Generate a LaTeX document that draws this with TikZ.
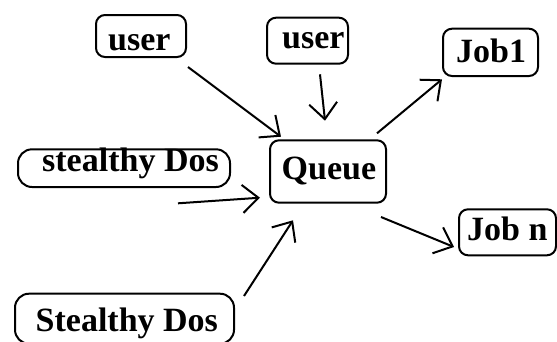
\documentclass[tikz,border=0pt]{standalone}
\usepackage{fontspec}
\setmainfont{Liberation Serif}
\usetikzlibrary{arrows.meta,calc}
\tikzset{
  box/.style={draw, line width=2pt, rounded corners=9pt, inner sep=0pt, anchor=north west},
  lbl/.style={inner sep=0pt, anchor=base west, font=\fontsize{34}{40}\selectfont\bfseries},
  conn/.style={line width=2pt, -{Straight Barb[length=16pt,width=28pt,line width=2pt]}}
}
\begin{document}
\begin{tikzpicture}[x=1pt,y=-1pt]
\useasboundingbox (0,0) rectangle (557,341);
% boxes
\node[box, minimum width=90pt, minimum height=42pt] (u1) at (95,14) {};
\node[box, minimum width=81pt, minimum height=46pt] (u2) at (266,16.7) {};
\node[box, minimum width=95pt, minimum height=47.3pt] (j1) at (442,27.7) {};
\node[box, minimum width=116pt, minimum height=62.4pt] (q) at (269,139.3) {};
\node[box, minimum width=212pt, minimum height=37.7pt, rounded corners=14pt] (sd1) at (17,148.3) {};
\node[box, minimum width=97pt, minimum height=46pt] (jn) at (458,208.3) {};
\node[box, minimum width=219pt, minimum height=50pt, rounded corners=14pt] (sd2) at (14,292.7) {};
% labels
\node[lbl] (tu1) at (108,50.7) {user};
\node[lbl] (tu2) at (282,48.3) {user};
\node[lbl] (tj1) at (456,62.7) {Job1};
\node[lbl] (tq) at (281.5,179) {Queue};
\node[lbl] (tsd1) at (42,171.7) {stealthy Dos};
\node[lbl] (tjn) at (467,240) {Job n};
\node[lbl] (tsd2) at (35.5,331.7) {Stealthy Dos};
% connectors
\draw[conn] ($(u1.south east)+(1,9)$) -- ($(q.north west)+(12,-2.6)$);
\draw[conn] ($(u2.south)+(12.5,9.6)$) -- ($(q.north)+(-3,-18.6)$);
\draw[conn] ($(sd1.south east)+(-53,15.3)$) -- ($(q.west)+(-9,26.2)$);
\draw[conn] ($(sd2.north east)+(9,3.3)$) -- ($(q.south west)+(24,16.6)$);
\draw[conn] ($(q.north east)+(-10,-6)$) -- ($(j1.south west)+(0,2.3)$);
\draw[conn] ($(q.south east)+(-6,13.3)$) -- ($(jn.west)+(-4,14.7)$);
\end{tikzpicture}
\end{document}
